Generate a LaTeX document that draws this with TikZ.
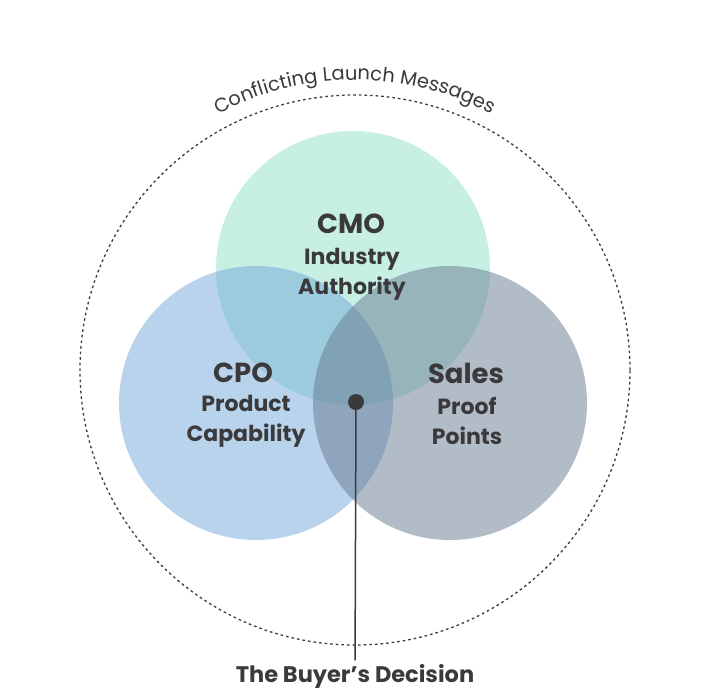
\documentclass[tikz,border=0pt]{standalone}
\usepackage{fontspec}
\setmainfont{Poppins}
\usetikzlibrary{decorations.text}

\definecolor{cmoteal}{HTML}{8FE0C8}
\definecolor{cpoblue}{HTML}{72A8D8}
\definecolor{salesgray}{HTML}{66798F}
\definecolor{inkgray}{HTML}{3A3A3C}

\begin{document}
\begin{tikzpicture}[x=1pt, y=1pt,
    venn/.style={fill opacity=0.5},
    title/.style={font=\bfseries\fontsize{27.5}{30}\selectfont, text=inkgray},
    role/.style={font=\bfseries\fontsize{22}{30}\selectfont, text=inkgray, align=center}]
    \useasboundingbox (0,0) rectangle (708,699);
    % outer boundary
    \draw[inkgray, line width=1.3pt, dash pattern=on 2.6pt off 3pt] (355,329) circle (275pt);
    \path[decorate, decoration={text along path, text align=center, text color=inkgray,
        text={|\fontsize{19.5}{20}\selectfont|Conflicting Launch Messages}}]
        (355,329) ++(150:290) arc (150:30:290);
    % the three circles
    \fill[cmoteal, venn] (353,431) circle (137pt);
    \fill[cpoblue, venn] (256,296) circle (137pt);
    \fill[salesgray, venn] (450,296) circle (137pt);
    % labels
    \node[title] (cmo) at (351,475) {CMO};
    \node[role] (cmotext) at (352,425) {Industry\\Authority};
    \node[title] (cpo) at (243,326) {CPO};
    \node[role] (cpotext) at (246,278) {Product\\Capability};
    \node[title] (sales) at (466,326) {Sales};
    \node[role] (salestext) at (467,278) {Proof\\Points};
    % decision point
    \node[circle, fill=inkgray, inner sep=0pt, minimum size=16pt] (dot) at (356,297) {};
    \node[role, font=\bfseries\fontsize{22.5}{30}\selectfont] (decision) at (355,23) {The Buyer’s Decision};
    \draw[inkgray, line width=1.5pt] (dot) -- (decision);
\end{tikzpicture}
\end{document}
